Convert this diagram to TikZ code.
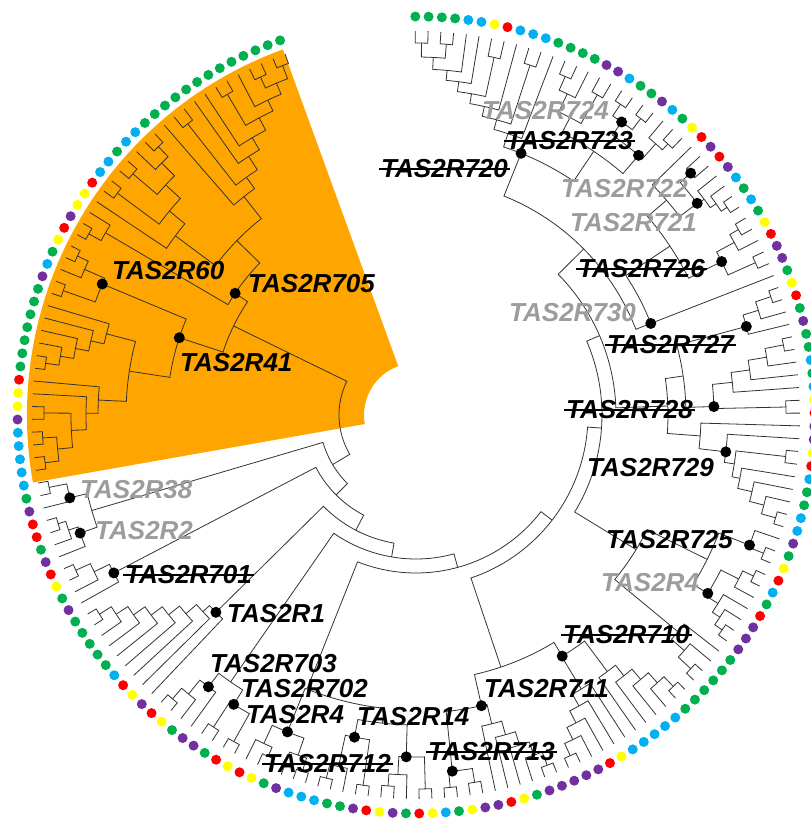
\documentclass[tikz,border=0pt]{standalone}
\usepackage{fontspec}
\setmainfont{Liberation Sans}
\definecolor{cG}{HTML}{00B050}
\definecolor{cB}{HTML}{00B0F0}
\definecolor{cY}{HTML}{FFFF00}
\definecolor{cR}{HTML}{FF0000}
\definecolor{cP}{HTML}{7030A0}
\definecolor{hl}{HTML}{FFA500}
\definecolor{lg}{HTML}{9C9C9C}
\newcommand\setnode[3]{\expandafter\xdef\csname nx@#1\endcsname{#2}\expandafter\xdef\csname nr@#1\endcsname{#3}}
\newcommand\ndx[1]{\csname nx@#1\endcsname}
\newcommand\ndr[1]{\csname nr@#1\endcsname}
\newcommand\Rt{384}
% join two children at radius #2
\newcommand\Jn[4]{%
  \pgfmathsetmacro\ja{90.1-1.911*(\ndx{#3})}%
  \pgfmathsetmacro\jb{90.1-1.911*(\ndx{#4})}%
  \edef\jra{\ndr{#3}}\edef\jrb{\ndr{#4}}%
  \draw[br] (\ja:\jra pt) -- (\ja:#2pt) arc[start angle=\ja, end angle=\jb, radius=#2pt] -- (\jb:\jrb pt);%
  \pgfmathsetmacro\jm{(\ndx{#3}+\ndx{#4})/2}%
  \setnode{#1}{\jm}{#2}}
\newcommand\JAn[5]{%
  \pgfmathsetmacro\ja{90.1-1.911*(\ndx{#3})}%
  \pgfmathsetmacro\jb{90.1-1.911*(\ndx{#4})}%
  \edef\jra{\ndr{#3}}\edef\jrb{\ndr{#4}}%
  \draw[br] (\ja:\jra pt) -- (\ja:#2pt) arc[start angle=\ja, end angle=\jb, radius=#2pt] -- (\jb:\jrb pt);%
  \setnode{#1}{#5}{#2}}
% ladder of leaves #2..#3, radii #4 -> #5
\newcommand\Lad[5]{%
  \setnode{#1}{#2}{\Rt}%
  \pgfmathtruncatemacro\ladn{abs(#3-#2)}%
  \pgfmathtruncatemacro\ladd{#3>#2 ? 1 : -1}%
  \foreach \k in {1,...,\ladn}{%
    \pgfmathtruncatemacro\kk{#2+\ladd*\k}%
    \pgfmathsetmacro\rr{#4+(#5-#4)*(\k-1)/max(\ladn-1,1)}%
    \Jn{#1}{\rr}{#1}{L\kk}}}
\newcommand\Dot[1]{\pgfmathsetmacro\dotang{90.1-1.911*(\ndx{#1})}\edef\dotrad{\ndr{#1}}\fill[black] (\dotang:\dotrad pt) circle[radius=5.5pt];}
\newcommand\Strike[1]{\draw[strike] ([xshift=-2pt]#1.west) -- ([xshift=2pt]#1.east);}
\tikzset{
  br/.style={draw=black!80, line width=0.8pt},
  lab/.style={font=\bfseries\itshape\fontsize{26}{28}\selectfont, inner sep=0pt, anchor=west, text=black},
  glab/.style={lab, text=lg},
  strike/.style={line width=2.4pt, draw=black}
}
\begin{document}
\begin{tikzpicture}[x=1pt,y=1pt]
\useasboundingbox (-416,-405) rectangle (395,415);
% highlighted clade
\fill[hl] (110:389pt) arc[start angle=110, end angle=190, radius=389pt] -- (190:52pt) arc[start angle=190, end angle=110, radius=52pt] -- cycle;
% leaves
\foreach \i in {0,...,178}{\setnode{L\i}{\i}{\Rt}}
% ---- top clade
\Jn{A1}{372}{L0}{L1}
\Jn{Ab}{372}{L2}{L3}
\Jn{A1}{358}{A1}{Ab}
\Jn{A1}{346}{A1}{L4}
\Jn{A1}{336}{A1}{L5}
\Jn{Ac}{366}{L6}{L7}
\Jn{A1}{326}{A1}{Ac}
\Jn{A1}{316}{A1}{L8}
\Jn{Ad}{368}{L9}{L10}
\Jn{A1}{306}{A1}{Ad}
\Jn{A1}{296}{A1}{L11}
\Jn{Ae}{370}{L12}{L13}
\Jn{Ae}{355}{Ae}{L14}
\Jn{Af}{368}{L15}{L16}
\Jn{Ae}{335}{Ae}{Af}
\Jn{Ag}{372}{L17}{L18}
\Jn{Ah}{372}{L19}{L20}
\JAn{N724}{358}{Ag}{Ah}{18.4}
\Jn{Ai}{370}{L22}{L23}
\Jn{Ai}{362}{L21}{Ai}
\JAn{N723}{342}{N724}{Ai}{21.3}
\Jn{A2}{318}{Ae}{N723}
\JAn{N720}{282}{A1}{A2}{11.5}
\Jn{N722}{366}{L25}{L26}
\Lad{B2}{30}{27}{374}{360}
\JAn{N721}{352}{N722}{B2}{27.8}
\Jn{B1}{330}{L24}{N721}
\Lad{B3}{31}{33}{372}{362}
\Jn{B4}{372}{L34}{L35}
\JAn{N726}{342}{B3}{B4}{33.2}
\Jn{B}{305}{B1}{N726}
\JAn{N730}{252}{B}{L36}{36}
\Jn{T}{236}{N720}{N730}
% ---- right clade
\Jn{Ca}{374}{L37}{L38}
\Jn{Ca}{358}{Ca}{L39}
\JAn{N727}{342}{Ca}{L40}{39.3}
\Lad{C2}{41}{45}{374}{318}
\Jn{C3}{370}{L46}{L47}
\JAn{N728}{298}{C2}{C3}{46.3}
\Jn{C4}{270}{N727}{N728}
\Jn{C5}{372}{L50}{L51}
\Lad{C6}{56}{52}{374}{330}
\Jn{C7}{322}{C5}{C6}
\JAn{N729}{312}{L49}{C7}{50.7}
\Jn{C8}{285}{L48}{N729}
\Jn{RG}{252}{C4}{C8}
\Jn{Da}{374}{L58}{L59}
\JAn{N725}{358}{L57}{Da}{58.3}
\Lad{Db}{60}{62}{374}{362}
\Lad{Dc}{66}{63}{374}{356}
\JAn{N4g}{342}{Db}{Dc}{63.6}
\Jn{Dd}{325}{N725}{N4g}
\Lad{De}{70}{67}{374}{340}
\JAn{C725}{258}{Dd}{De}{63.6}
% ---- bottom right
\Lad{Ea}{71}{76}{374}{320}
\Lad{Eb}{82}{77}{374}{320}
\JAn{N710}{282}{Ea}{Eb}{77.9}
\Jn{Fa}{374}{L91}{L92}
\Jn{Fb}{372}{L89}{L90}
\JAn{N713}{358}{Fb}{Fa}{91.2}
\Lad{Fc}{83}{88}{374}{318}
\JAn{N711}{298}{Fc}{N713}{87.6}
\JAn{C710}{266}{N710}{N711}{84.5}
% ---- bottom
\Jn{Ga}{374}{L93}{L94}
\Jn{Gb}{372}{L96}{L97}
\Jn{Gb}{360}{L95}{Gb}
\JAn{N712}{342}{Ga}{Gb}{95.1}
\Jn{Ha}{374}{L98}{L99}
\Lad{Hb}{102}{100}{374}{360}
\JAn{N14}{328}{Ha}{Hb}{99.9}
\Jn{X}{310}{N712}{N14}
\Lad{Ia}{103}{105}{374}{360}
\Jn{Ib}{372}{L106}{L107}
\Jn{Ib}{362}{Ib}{L108}
\JAn{N4}{342}{Ia}{Ib}{105.8}
\JAn{BotL}{295}{X}{N4}{105.6}
\Jn{Ja}{374}{L109}{L110}
\Jn{Jb}{372}{L111}{L112}
\JAn{N702}{342}{Ja}{Jb}{111.1}
\Lad{Ka}{116}{114}{374}{360}
\JAn{N703}{342}{L113}{Ka}{113.8}
\Jn{C703}{325}{N702}{N703}
% ---- lower left
\Lad{N1a}{125}{118}{374}{290}
\JAn{N1}{281}{L117}{N1a}{118}
\Lad{Ma}{129}{127}{374}{358}
\JAn{N701}{341}{L126}{Ma}{126.9}
\Lad{Na}{133}{131}{374}{366}
\JAn{N2}{356}{L130}{Na}{131.2}
\Jn{Nb}{374}{L135}{L136}
\JAn{N38}{356}{L134}{Nb}{134.3}
\Jn{C38}{338}{N2}{N38}
% ---- highlighted clade
\Jn{Oa1}{374}{L137}{L138}
\Jn{Oa2}{374}{L139}{L140}
\Jn{Oa}{360}{Oa1}{Oa2}
\Jn{Oa3}{372}{L141}{L142}
\Jn{Oa}{345}{Oa}{Oa3}
\Jn{Oa}{330}{Oa}{L143}
\Jn{Oa}{318}{Oa}{L144}
\Lad{Ob}{145}{150}{374}{320}
\Jn{Oc}{290}{Oa}{Ob}
\Jn{Pa}{374}{L151}{L152}
\Lad{Pb}{155}{153}{374}{362}
\JAn{N60}{340}{Pa}{Pb}{153.2}
\JAn{N41}{249}{Oc}{N60}{150.8}
\Jn{Ra}{374}{L156}{L157}
\Jn{Ra}{360}{Ra}{L158}
\Jn{Ua}{374}{L177}{L178}
\Jn{Ub}{372}{L175}{L176}
\Jn{Ua}{360}{Ub}{Ua}
\Jn{Ua}{348}{L174}{Ua}
\Jn{Uc}{372}{L172}{L173}
\Jn{Ua}{336}{Uc}{Ua}
\Jn{Ua}{322}{L171}{Ua}
\Jn{Ua}{308}{L170}{Ua}
\Jn{Ud}{370}{L168}{L169}
\Jn{Ua}{292}{Ud}{Ua}
\Jn{Ua}{278}{L167}{Ua}
\Jn{Ue}{372}{L165}{L166}
\Jn{Ue}{358}{L164}{Ue}
\Jn{Uf}{372}{L162}{L163}
\Jn{Ue}{340}{Uf}{Ue}
\Jn{Ug}{372}{L160}{L161}
\Jn{Ue}{320}{Ug}{Ue}
\Jn{Ue}{300}{L159}{Ue}
\Jn{U}{250}{Ue}{Ua}
\JAn{N705}{218}{Ra}{U}{159.1}
\Jn{On}{203}{N41}{N705}
% ---- backbone
\Jn{D9}{200}{T}{RG}
\Jn{D8}{186}{D9}{C725}
\Jn{D7}{172}{D8}{C710}
\Jn{D6}{158}{D7}{BotL}
\Jn{D5}{144}{D6}{C703}
\Jn{D4}{130}{D5}{N1}
\Jn{D3}{113}{D4}{N701}
\Jn{D2}{97}{D3}{C38}
\Jn{Root}{77}{D2}{On}
% ---- ring of coloured dots
\foreach \c [count=\i from 0] in {G,G,G,G,B,B,Y,R,B,B,B,G,G,G,G,P,P,B,G,G,P,B,G,Y,R,P,R,P,B,G,B,G,Y,R,P,P,G,
 Y,R,G,P,G,G,B,G,B,Y,R,P,P,Y,R,B,G,G,B,B,
 P,G,Y,R,B,G,R,P,P,P,G,G,G,G,G,G,B,B,B,B,B,Y,R,P,P,P,P,P,G,Y,R,P,P,Y,G,B,Y,R,G,
 P,Y,R,P,G,G,B,B,B,P,G,Y,R,Y,R,G,P,P,G,Y,R,P,Y,R,B,G,G,G,G,G,P,G,Y,R,P,G,R,
 R,P,G,B,B,B,B,B,P,Y,Y,R,G,G,G,G,G,G,G,P,B,
 G,Y,R,P,Y,Y,R,B,B,G,B,B,G,G,G,G,G,G,G,G,G,G,G,G,G}
 {\fill[fill=c\c] ({90.1-1.911*\i}:398.5pt) circle[radius=5pt];}
% ---- marked nodes
\Dot{N724}\Dot{N723}\Dot{N720}\Dot{N722}\Dot{N721}\Dot{N726}\Dot{N730}
\Dot{N727}\Dot{N728}\Dot{N729}\Dot{N725}\Dot{N4g}\Dot{N710}\Dot{N711}
\Dot{N713}\Dot{N712}\Dot{N14}\Dot{N4}\Dot{N702}\Dot{N703}\Dot{N1}
\Dot{N701}\Dot{N2}\Dot{N38}\Dot{N60}\Dot{N705}\Dot{N41}
% ---- labels
\node[glab] (t724) at (66,304) {TAS2R724};
\node[lab] (t723) at (90,274) {TAS2R723}; \Strike{t723}
\node[lab] (t720) at (-35,246) {TAS2R720}; \Strike{t720}
\node[glab] (t722) at (145,226) {TAS2R722};
\node[glab] (t721) at (154,192) {TAS2R721};
\node[lab] (t726) at (162,146) {TAS2R726}; \Strike{t726}
\node[glab] (t730) at (93,102) {TAS2R730};
\node[lab] (t727) at (191,70) {TAS2R727}; \Strike{t727}
\node[lab] (t728) at (150,5) {TAS2R728}; \Strike{t728}
\node[lab] (t729) at (171,-53) {TAS2R729};
\node[lab] (t725) at (190,-125) {TAS2R725};
\node[glab] (t4g) at (185,-168) {TAS2R4};
\node[lab] (t710) at (147,-220) {TAS2R710}; \Strike{t710}
\node[lab] (t711) at (68,-274) {TAS2R711};
\node[lab] (t713) at (12,-337) {TAS2R713}; \Strike{t713}
\node[lab] (t712) at (-152,-349) {TAS2R712}; \Strike{t712}
\node[lab] (t14) at (-59,-302) {TAS2R14};
\node[lab] (t4b) at (-170,-300) {TAS2R4};
\node[lab] (t702) at (-175,-274) {TAS2R702};
\node[lab] (t703) at (-206,-249) {TAS2R703};
\node[lab] (t1) at (-189,-199) {TAS2R1};
\node[lab] (t701) at (-291,-160) {TAS2R701}; \Strike{t701}
\node[glab] (t2) at (-321,-116) {TAS2R2};
\node[glab] (t38) at (-336,-75) {TAS2R38};
\node[lab] (t60) at (-304,144) {TAS2R60};
\node[lab] (t705) at (-168,131) {TAS2R705};
\node[lab] (t41) at (-236,52) {TAS2R41};
\end{tikzpicture}
\end{document}
